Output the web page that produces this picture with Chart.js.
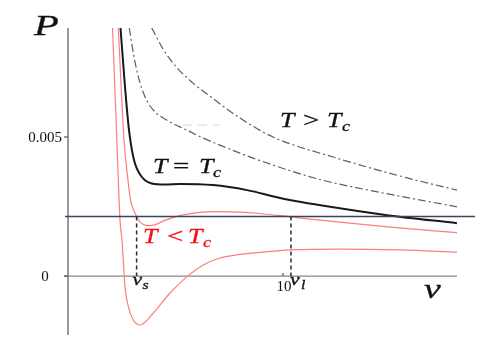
<!DOCTYPE html>
<html>
<head>
<meta charset="utf-8">
<script src="https://cdn.jsdelivr.net/npm/chart.js@4"></script>
<style>
  body { margin: 0; background: #fff; }
</style>
</head>
<body>
<canvas id="chart" width="488" height="349"></canvas>
<script>
'use strict';

// isotherms (v, P)
let vLow = [2.07, 2.256, 2.419, 2.512, 2.651, 2.805, 3.037, 3.349, 3.967, 4.744, 5.521, 6.293, 7.07, 7.847, 8.777, 10.37, 12.65, 15.44, 18.09];
let pLow = [0.00892, 0.00525, 0.00201, 0.00129, -0.00039, -0.0011, -0.00158, -0.00176, -0.00133, -0.00061, -0.00003, 0.0004, 0.00065, 0.00076, 0.00084, 0.00094, 0.00097, 0.00094, 0.00086];

let vMid = [2.34, 2.605, 2.79, 2.884, 3.0, 3.195, 3.35, 3.58, 3.8, 4.05, 4.5, 5.2, 5.91, 7.0, 8.0, 8.93, 10.37, 11.72, 14.98, 18.09];
let pMid = [0.00892, 0.00489, 0.00345, 0.00285, 0.00248, 0.00213, 0.00195, 0.00183, 0.00181, 0.00185, 0.002, 0.00217, 0.00227, 0.00232, 0.0023, 0.00225, 0.00213, 0.00201, 0.00176, 0.00156];

let vCrit = [2.442, 2.651, 2.837, 3.07, 3.428, 3.893, 4.51, 5.21, 6.74, 8.33, 9.86, 12.19, 14.84, 18.09];
let pCrit = [0.00892, 0.0068, 0.00525, 0.00417, 0.00357, 0.00333, 0.00329, 0.00331, 0.00327, 0.00309, 0.00281, 0.00249, 0.00219, 0.0019];

let vHot1 = [2.851, 3.037, 3.27, 3.581, 3.967, 4.591, 5.521, 6.293, 8.0, 8.79, 11.58, 13.72, 18.09];
let pHot1 = [0.00892, 0.00802, 0.00717, 0.00645, 0.00597, 0.00561, 0.00525, 0.00496, 0.00442, 0.00419, 0.0035, 0.00313, 0.00249];

let vHot2 = [3.893, 4.433, 5.056, 5.828, 6.526, 8.0, 9.535, 12.33, 15.77, 18.09];
let pHot2 = [0.00892, 0.00815, 0.0075, 0.00693, 0.00651, 0.00568, 0.005, 0.00428, 0.00353, 0.00309];

// equal-area line and the two volumes
let pSat = 0.00214;
let vS = 3.19;
let vL = 10.37;
let vEnd = 18.09;

let yTicks = [0, 0.005];
let yTickLabels = ['0', '0.005'];
let xTicks = [10];
let xTickLabels = ['10'];

function toPoints(xs, ys) {
  let pts = [];
  for (let i = 0; i < xs.length; i++) {
    pts.push({ x: xs[i], y: ys[i] });
  }
  return pts;
}

const serif = '"Liberation Serif", "DejaVu Serif", serif';
const salmon = 'rgb(255, 125, 125)';
const dashGray = 'rgb(95, 95, 95)';

function curve(data, color, width, dash) {
  return {
    data: data,
    borderColor: color,
    borderWidth: width,
    borderDash: dash || [],
    pointRadius: 0,
    fill: false,
    cubicInterpolationMode: 'monotone',
  };
}

// math glyphs come out wide in the picture, so stretch them sideways
function sText(ctx, str, x, y, size, italic, sx) {
  ctx.save();
  ctx.translate(x, y);
  ctx.scale(sx, 1);
  ctx.font = (italic ? 'italic ' : '') + size + 'px ' + serif;
  ctx.lineWidth = 0.3;
  ctx.strokeStyle = ctx.fillStyle;
  ctx.fillText(str, 0, 0);
  ctx.strokeText(str, 0, 0);
  ctx.restore();
}

function tLabel(ctx, op, x, y, gaps, color) {
  ctx.fillStyle = color;
  sText(ctx, 'T', x, y, 20, true, 1.3);
  sText(ctx, op, x + gaps[0], y, 20, false, 1.45);
  sText(ctx, 'T', x + gaps[1], y, 20, true, 1.3);
  sText(ctx, 'c', x + gaps[2], y + 4, 14, true, 1.3);
}

const decorations = {
  id: 'decorations',
  beforeDatasetsDraw(chart) {
    let ctx = chart.ctx;
    let xs = chart.scales.x;
    let ys = chart.scales.y;
    let area = chart.chartArea;
    ctx.save();
    ctx.strokeStyle = 'rgb(85, 85, 85)';
    ctx.lineWidth = 1.2;
    // y axis
    let x0 = xs.getPixelForValue(0);
    ctx.beginPath();
    ctx.moveTo(x0, area.top);
    ctx.lineTo(x0, area.bottom);
    ctx.stroke();
    // x axis
    ctx.strokeStyle = 'rgb(135, 135, 135)';
    let y0 = ys.getPixelForValue(0);
    ctx.beginPath();
    ctx.moveTo(x0 - 4, y0);
    ctx.lineTo(xs.getPixelForValue(vEnd), y0);
    ctx.stroke();
    // ticks
    ctx.strokeStyle = 'rgb(85, 85, 85)';
    ctx.fillStyle = '#111';
    ctx.font = '15px ' + serif;
    ctx.textBaseline = 'middle';
    for (let i = 0; i < yTicks.length; i++) {
      let ty = ys.getPixelForValue(yTicks[i]);
      ctx.beginPath();
      ctx.moveTo(x0 - 4, ty);
      ctx.lineTo(x0, ty);
      ctx.stroke();
      if (yTicks[i] === 0) {
        ctx.textAlign = 'center';
        ctx.fillText(yTickLabels[i], x0 - 23, ty + 1);
      } else {
        ctx.textAlign = 'right';
        ctx.fillText(yTickLabels[i], x0 - 6, ty + 1);
      }
    }
    ctx.textAlign = 'center';
    ctx.textBaseline = 'alphabetic';
    for (let i = 0; i < xTicks.length; i++) {
      let tx = xs.getPixelForValue(xTicks[i]);
      ctx.beginPath();
      ctx.moveTo(tx, y0);
      ctx.lineTo(tx, y0 - 3);
      ctx.stroke();
      ctx.fillText(xTickLabels[i], tx + 1, y0 + 15);
    }
    ctx.restore();
  },
  afterDatasetsDraw(chart) {
    let ctx = chart.ctx;
    let xs = chart.scales.x;
    let ys = chart.scales.y;
    ctx.save();
    // dashed drops at v_s and v_l
    ctx.strokeStyle = 'rgb(30, 45, 70)';
    ctx.lineWidth = 1.5;
    ctx.setLineDash([4, 3]);
    [vS, vL].forEach(function (v) {
      let px = xs.getPixelForValue(v);
      ctx.beginPath();
      ctx.moveTo(px, ys.getPixelForValue(pSat));
      ctx.lineTo(px, ys.getPixelForValue(0));
      ctx.stroke();
    });
    ctx.setLineDash([]);

    ctx.fillStyle = '#111';
    ctx.textAlign = 'left';
    ctx.textBaseline = 'alphabetic';
    sText(ctx, 'P', 34, 35, 29, true, 1.4);
    sText(ctx, 'v', 424, 298, 28, true, 1.35);
    let sx = xs.getPixelForValue(vS);
    sText(ctx, 'v', sx - 4, 285, 16, true, 1.35);
    sText(ctx, 's', sx + 6, 289, 12, true, 1.3);
    let lx = xs.getPixelForValue(vL);
    sText(ctx, 'v', lx - 1, 285, 16, true, 1.35);
    sText(ctx, 'l', lx + 10, 289, 12, true, 1.3);

    tLabel(ctx, '>', 280, 127, [23, 47, 62], '#111');
    tLabel(ctx, '=', 153, 173, [20, 46, 60], '#111');
    tLabel(ctx, '<', 143, 243, [24, 45, 60], 'rgb(245, 15, 15)');
    ctx.restore();
  },
};

new Chart(document.getElementById('chart'), {
  type: 'line',
  data: {
    datasets: [
      curve([{ x: 5.35, y: 0.00543 }, { x: 7.07, y: 0.00543 }], 'rgb(215, 215, 215)', 1, [9, 6]),
      curve([{ x: -0.14, y: pSat }, { x: 18.93, y: pSat }], 'rgb(55, 70, 90)', 1.5),
      curve(toPoints(vHot2, pHot2), dashGray, 1.2, [8, 3, 2, 3]),
      curve(toPoints(vHot1, pHot1), dashGray, 1.2, [8, 3, 2, 3]),
      curve(toPoints(vLow, pLow), salmon, 1.2),
      curve(toPoints(vMid, pMid), salmon, 1.2),
      curve(toPoints(vCrit, pCrit), 'rgb(25, 25, 25)', 2),
    ],
  },
  options: {
    responsive: false,
    animation: false,
    layout: { padding: { left: 65, right: 13, top: 28, bottom: 14 } },
    plugins: {
      legend: { display: false },
      tooltip: { enabled: false },
    },
    scales: {
      x: { type: 'linear', min: -0.14, max: 18.93, display: false },
      y: { type: 'linear', min: -0.00212, max: 0.00892, display: false },
    },
  },
  plugins: [decorations],
});
</script>
</body>
</html>
